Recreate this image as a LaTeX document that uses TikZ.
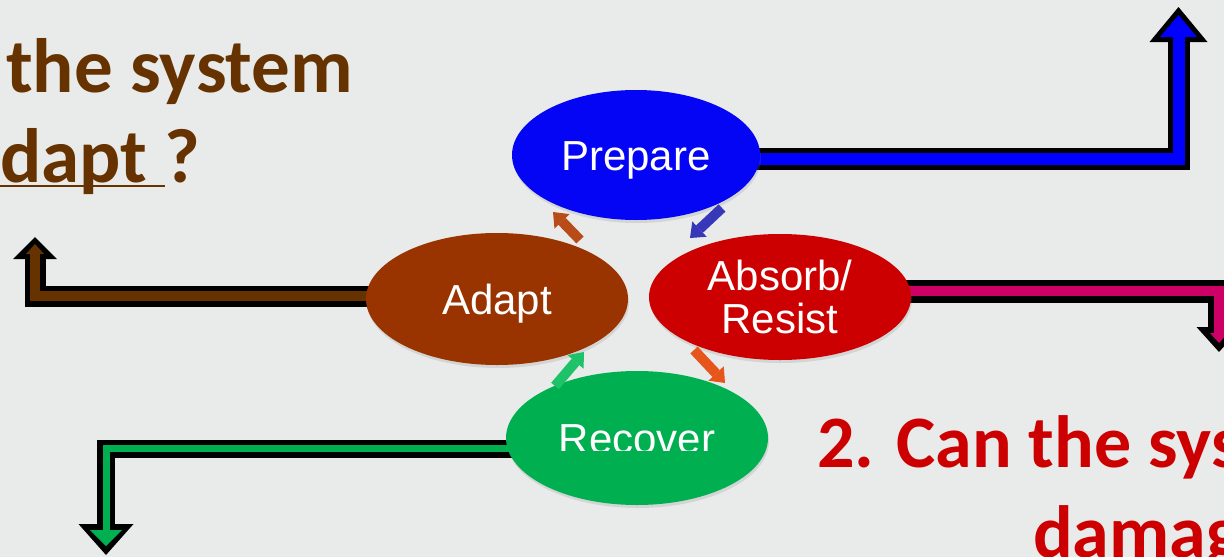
\documentclass[tikz,border=0pt]{standalone}
\usepackage{fontspec}
\setmainfont{Liberation Sans}
\newfontfamily\titlefont{Carlito}
\usetikzlibrary{shapes.geometric,arrows.meta,shadows}
\definecolor{bgpanel}{RGB}{232,235,234}
\definecolor{cprepare}{RGB}{5,5,245}
\definecolor{cadapt}{RGB}{153,51,0}
\definecolor{cabsorb}{RGB}{204,0,0}
\definecolor{crecover}{RGB}{0,176,80}
\definecolor{linkblue}{RGB}{0,0,255}
\definecolor{linkbrown}{RGB}{102,51,0}
\definecolor{linkpink}{RGB}{204,0,102}
\definecolor{linkgreen}{RGB}{0,176,80}
\definecolor{qbrown}{RGB}{102,51,0}
\definecolor{qred}{RGB}{204,0,0}
\definecolor{tipbrown}{RGB}{185,75,25}
\definecolor{tipblue}{RGB}{55,55,185}
\definecolor{tiporange}{RGB}{230,85,25}
\definecolor{tipgreen}{RGB}{30,195,105}
\newcommand{\lowrule}[1]{\setbox0\hbox{#1}\rlap{\rule[-5pt]{\wd0}{2pt}}\box0}
\pgfdeclarelayer{back}
\pgfdeclarelayer{links}
\pgfsetlayers{back,links,main}

\begin{document}
\begin{tikzpicture}[x=1pt, y=-1pt,
    oval/.style={ellipse, minimum width=262pt, minimum height=130pt, inner sep=0pt, text=white,
        font=\fontsize{42}{43}\selectfont, drop shadow={opacity=0.2, shadow xshift=1pt, shadow yshift=-3pt}},
    oneline/.style={text height=30pt, text depth=0pt},
    pipe/.style args={#1/#2/#3}{line width=#1, -{Triangle[width=#2, length=#3, line width=0pt]}},
    cyc/.style={line width=10pt, -{Triangle[width=21pt, length=13pt, line width=0pt]}},
    question/.style={anchor=base west, inner sep=0pt, font=\titlefont\bfseries\fontsize{77}{90}\selectfont}]
    \useasboundingbox (0,0) rectangle (1224,557);
    \begin{pgfonlayer}{back}
        \fill[bgpanel] (0,0) rectangle (1224,557);
    \end{pgfonlayer}

    % Four stages
    \node[oval, oneline, fill=cprepare, minimum width=248pt] (prep) at (636,155) {Prepare};
    \node[oval, fill=cabsorb, minimum height=126pt, align=center] (absorb) at (780,297) {Absorb/\\Resist};
    \node[oval, fill=crecover, minimum height=134pt] (recover) at (637,438) {};
    \node[oval, oneline, fill=cadapt, minimum height=132pt] (adapt) at (497,299) {Adapt};
    \begin{scope}
        \clip (500,400) rectangle (780,450);
        \node[oneline, inner sep=0pt, text=white, font=\fontsize{42}{43}\selectfont] (rectext) at (recover.center) {Recover};
    \end{scope}

    % Small cycle arrows
    \coordinate (ap0) at (580,240); \coordinate (ap1) at (553,212);
    \coordinate (pb0) at (722,208); \coordinate (pb1) at (690,238);
    \coordinate (br0) at (694,350); \coordinate (br1) at (725,383);
    \coordinate (ra0) at (555,386); \coordinate (ra1) at (584,352);
    \draw[cyc, tipbrown] (ap0) -- (ap1);
    \draw[cyc, tipblue] (pb0) -- (pb1);
    \draw[cyc, tiporange] (br0) -- (br1);
    \draw[cyc, tipgreen] (ra0) -- (ra1);

    % Elbow arrows, black outline first
    \coordinate (upP) at (1178.5,7);
    \coordinate (upA) at (35,237);
    \coordinate (downB) at (1219,352);
    \coordinate (downR) at (106,555);
    \begin{pgfonlayer}{links}
        \draw[pipe=22pt/58pt/35pt] ([yshift=-3.5pt]prep.center) -| (upP);
        \draw[pipe=12pt/37pt/22pt, linkblue, shorten >=8pt] ([yshift=-3.5pt]prep.center) -| (upP);
        \draw[pipe=21pt/44pt/22pt] ([yshift=3pt]adapt.center) -| (upA);
        \draw[pipe=10pt/18pt/10pt, linkbrown, shorten >=7pt] ([yshift=3pt]adapt.center) -| (upA);
        \draw[pipe=23pt/45pt/25pt] ([yshift=6pt]absorb.center) -| (downB);
        \draw[pipe=10pt/18pt/10pt, linkpink, shorten >=9pt] ([yshift=6pt]absorb.center) -| (downB);
        \draw[pipe=18pt/55pt/31pt] ([yshift=-10.5pt]recover.center) -| (downR);
        \draw[pipe=7pt/32pt/16pt, linkgreen, shorten >=9pt] ([yshift=-10.5pt]recover.center) -| (downR);
    \end{pgfonlayer}

    % Questions
    \node[question, text=qbrown] (q1a) at (6,92) {the system};
    \node[question, text=qbrown] (q1b) at (0,182) {\lowrule{dapt }?};
    \node[question, text=qred, font=\titlefont\bfseries\fontsize{74}{90}\selectfont] (q2a) at (817,467) {2. Can the sys};
    \node[question, text=qred, font=\titlefont\bfseries\fontsize{74}{90}\selectfont] (q2b) at (1033,557) {damag};
\end{tikzpicture}
\end{document}
